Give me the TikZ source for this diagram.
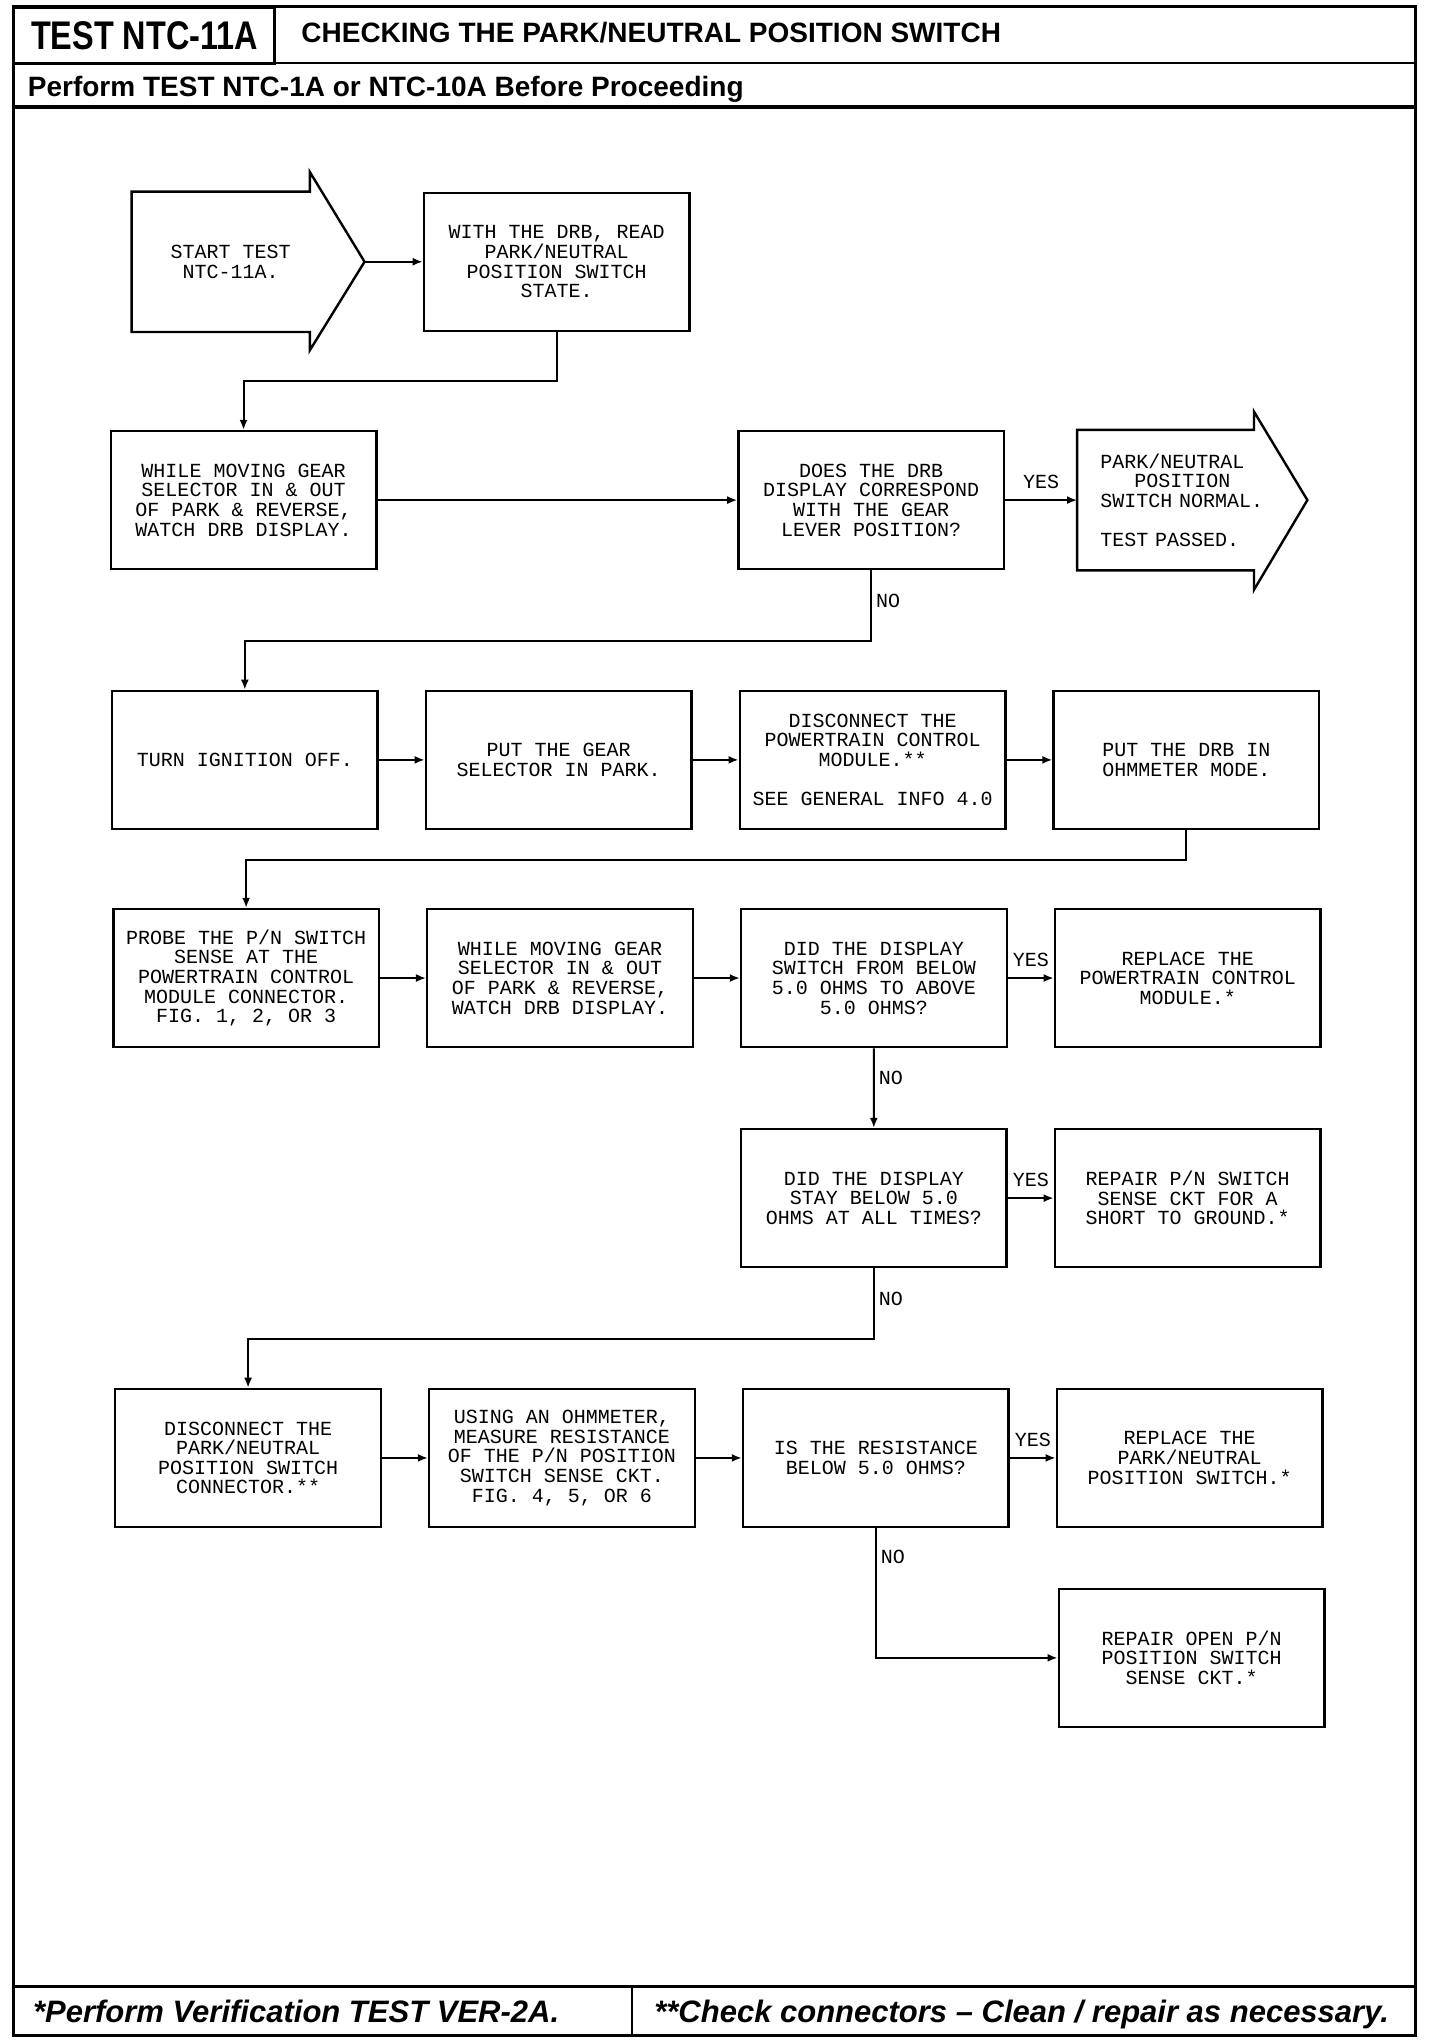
\documentclass[tikz,border=0pt]{standalone}
\usepackage{fontspec}
\setmonofont{Liberation Mono}
\newfontfamily\headfont{Liberation Sans}
\usepackage{tikz}
\usetikzlibrary{arrows.meta, positioning, calc}

\begin{document}
\begin{tikzpicture}[x=0.651pt, y=-0.651pt, node distance=22.9pt,
  box/.style={draw, line width=1.2pt, minimum width=132.8pt, minimum height=69pt, align=center, inner sep=2pt, font=\ttfamily\fontsize{10}{9.8}\selectfont},
  flow/.style={-{Latex[length=5pt, width=4pt]}, line width=1pt},
  lbl/.style={font=\ttfamily\fontsize{10}{9.8}\selectfont, inner sep=2pt}]
  \useasboundingbox (0,0) rectangle (1106,1568);

  % frame and header
  \draw[line width=1.5pt] (10,5) rectangle (1087,1563);
  \node (testid) [draw, line width=1.2pt, anchor=north west, minimum width=130.2pt, minimum height=28pt, font=\headfont\bfseries\fontsize{20}{20}\selectfont] at (10,5) {\scalebox{0.81}[1]{TEST NTC-11A}};
  \node (title) [anchor=base west, font=\headfont\bfseries\fontsize{14}{14}\selectfont] at (226,33) {CHECKING THE PARK/NEUTRAL POSITION SWITCH};
  \draw[line width=1pt] (10,48) -- (1087,48);
  \node (before) [anchor=base west, font=\headfont\bfseries\fontsize{14}{14}\selectfont] at (16,74) {Perform TEST NTC-1A or NTC-10A Before Proceeding};
  \draw[line width=2pt] (10,82) -- (1087,82);

  % row 1
  \node (start) [box, draw=none, minimum width=87.9pt] at (169.5,201) {\hspace*{10pt}START TEST\\\hspace*{10pt}NTC-11A.};
  \coordinate (starttip) at ($(start.east)+(42,0)$);
  \draw[line width=1.2pt] (start.north west) -- (start.north east) -- ++(0,-15) -- (starttip) -- ($(start.south east)+(0,14)$) -- (start.south east) -- (start.south west) -- cycle;
  \node (drb) [box] at (427.5,201) {WITH THE DRB, READ\\PARK/NEUTRAL\\POSITION SWITCH\\STATE.};
  \draw[flow] (starttip) -- (drb);

  % row 2
  \node (gear1) [box] at (187,384) {WHILE MOVING GEAR\\SELECTOR IN \& OUT\\OF PARK \& REVERSE,\\WATCH DRB DISPLAY.};
  \node (corr) [box] at (669,384) {DOES THE DRB\\DISPLAY CORRESPOND\\WITH THE GEAR\\LEVER POSITION?};
  \node (normal) [box, draw=none, minimum width=0pt, text width=87.2pt, inner xsep=0pt, align=left] at (895,384) {\hspace*{11pt}PARK/NEUTRAL\\\hspace*{28pt}POSITION\\\hspace*{11pt}\mbox{SWITCH NORMAL.}\\[9.8pt]\hspace*{11pt}\mbox{TEST PASSED.}};
  \coordinate (normaltip) at ($(normal.east)+(41,0)$);
  \draw[line width=1.2pt] (normal.north east) -- (normal.north west) -- (normal.south west) -- (normal.south east) -- ++(0,15) -- (normaltip) -- ($(normal.north east)+(0,-14)$) -- cycle;
  \draw[flow] (drb.south) -- ++(0,38) -| (gear1.north);
  \draw[flow] (gear1) -- (corr);
  \draw[flow] (corr) -- node[lbl, above=3pt] {YES} (normal.west);

  % row 3
  \node (ign) [box] at (188,583.5) {TURN IGNITION OFF.};
  \node (park) [box, right=of ign] {PUT THE GEAR\\SELECTOR IN PARK.};
  \node (disc) [box, right=of park] {DISCONNECT THE\\POWERTRAIN CONTROL\\MODULE.**\\[9.8pt]SEE GENERAL INFO 4.0};
  \node (ohm) [box, right=of disc] {PUT THE DRB IN\\OHMMETER MODE.};
  \draw[flow] (corr.south) -- ++(0,54) node[lbl, pos=0.43, right] {NO} -| (ign.north);
  \draw[flow] (ign) -- (park);
  \draw[flow] (park) -- (disc);
  \draw[flow] (disc) -- (ohm);

  % row 4
  \node (probe) [box] at (189,751) {PROBE THE P/N SWITCH\\SENSE AT THE\\POWERTRAIN CONTROL\\MODULE CONNECTOR.\\FIG. 1, 2, OR 3};
  \node (gear2) [box, right=of probe] {WHILE MOVING GEAR\\SELECTOR IN \& OUT\\OF PARK \& REVERSE,\\WATCH DRB DISPLAY.};
  \node (switch) [box, right=of gear2] {DID THE DISPLAY\\SWITCH FROM BELOW\\5.0 OHMS TO ABOVE\\5.0 OHMS?};
  \node (repl1) [box, right=of switch] {REPLACE THE\\POWERTRAIN CONTROL\\MODULE.*};
  \draw[flow] (ohm.south) -- ++(0,23) -| (probe.north);
  \draw[flow] (probe) -- (gear2);
  \draw[flow] (gear2) -- (switch);
  \draw[flow] (switch) -- node[lbl, above=3pt] {YES} (repl1);

  % row 5
  \node (stay) [box] at (671,920) {DID THE DISPLAY\\STAY BELOW 5.0\\OHMS AT ALL TIMES?};
  \node (short) [box, right=of stay] {REPAIR P/N SWITCH\\SENSE CKT FOR A\\SHORT TO GROUND.*};
  \draw[flow] (switch.south) -- node[lbl, pos=0.37, right] {NO} (stay.north);
  \draw[flow] (stay) -- node[lbl, above=3pt] {YES} (short);

  % row 6
  \node (disc2) [box] at (190.5,1119.5) {DISCONNECT THE\\PARK/NEUTRAL\\POSITION SWITCH\\CONNECTOR.**};
  \node (using) [box, right=of disc2] {USING AN OHMMETER,\\MEASURE RESISTANCE\\OF THE P/N POSITION\\SWITCH SENSE CKT.\\FIG. 4, 5, OR 6};
  \node (resist) [box, right=of using] {IS THE RESISTANCE\\BELOW 5.0 OHMS?};
  \node (repl2) [box, right=of resist] {REPLACE THE\\PARK/NEUTRAL\\POSITION SWITCH.*};
  \draw[flow] (stay.south) -- ++(0,54) node[lbl, pos=0.43, right] {NO} -| (disc2.north);
  \draw[flow] (disc2) -- (using);
  \draw[flow] (using) -- (resist);
  \draw[flow] (resist) -- node[lbl, above=3pt] {YES} (repl2);

  % row 7
  \node (open) [box] at (915,1273) {REPAIR OPEN P/N\\POSITION SWITCH\\SENSE CKT.*};
  \draw[flow] (resist.south) |- node[lbl, pos=0.11, right] {NO} (open.west);

  % footer
  \draw[line width=1.5pt] (10,1525) -- (1087,1525);
  \draw[line width=1pt] (485,1525) -- (485,1563);
  \node (verify) [anchor=base west, font=\headfont\bfseries\itshape\fontsize{15.5}{15.5}\selectfont] at (20,1553) {*Perform Verification TEST VER-2A.};
  \node (connect) [anchor=base west, font=\headfont\bfseries\itshape\fontsize{15.5}{15.5}\selectfont] at (497,1553) {**Check connectors – Clean / repair as necessary.};
\end{tikzpicture}
\end{document}
